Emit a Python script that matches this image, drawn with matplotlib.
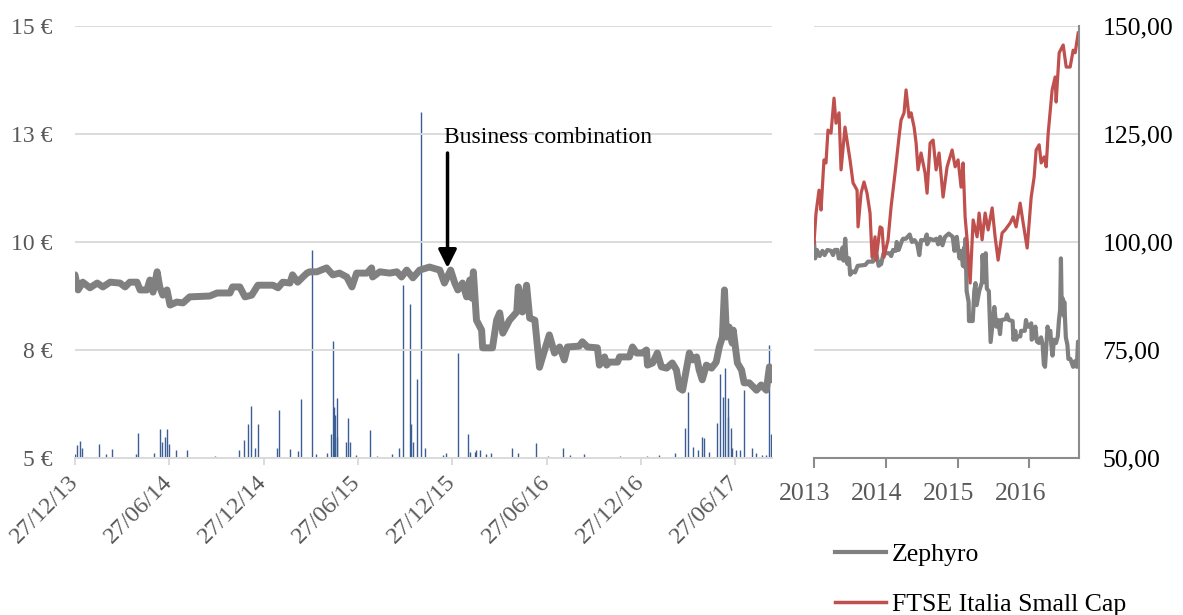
import pandas as pd
import matplotlib
matplotlib.use('Agg')
import matplotlib.pyplot as plt
from matplotlib.lines import Line2D
from matplotlib.transforms import ScaledTranslation

plt.rcParams['font.family'] = ['Liberation Serif', 'DejaVu Serif']

# Zephyro share price (EUR)
zephyro_dates = [
    '2013-12-27', '2014-01-02', '2014-01-11', '2014-01-25', '2014-02-08', '2014-02-19',
    '2014-03-05', '2014-03-24', '2014-04-03', '2014-04-12', '2014-04-26', '2014-05-02',
    '2014-05-15', '2014-05-21', '2014-05-27', '2014-06-04', '2014-06-09', '2014-06-15',
    '2014-06-23', '2014-06-29', '2014-07-12', '2014-07-24', '2014-08-06', '2014-09-14',
    '2014-09-28', '2014-10-23', '2014-10-28', '2014-11-11', '2014-11-21', '2014-12-04',
    '2014-12-16', '2015-01-14', '2015-01-24', '2015-02-02', '2015-02-16', '2015-02-21',
    '2015-03-03', '2015-03-13', '2015-03-21', '2015-03-26', '2015-04-09', '2015-04-28',
    '2015-05-10', '2015-05-23', '2015-06-06', '2015-06-16', '2015-06-25', '2015-07-15',
    '2015-07-24', '2015-07-26', '2015-08-09', '2015-08-28', '2015-09-11', '2015-09-20',
    '2015-09-30', '2015-10-12', '2015-10-25', '2015-11-13', '2015-12-03', '2015-12-12',
    '2015-12-24', '2016-01-01', '2016-01-07', '2016-01-16', '2016-01-24', '2016-01-30',
    '2016-02-03', '2016-02-06', '2016-02-12', '2016-02-22', '2016-02-24', '2016-03-14',
    '2016-03-22', '2016-03-28', '2016-04-03', '2016-04-16', '2016-04-30', '2016-05-03',
    '2016-05-11', '2016-05-19', '2016-05-25', '2016-06-04', '2016-06-13', '2016-06-23',
    '2016-07-02', '2016-07-12', '2016-07-22', '2016-07-31', '2016-08-06', '2016-08-29',
    '2016-09-04', '2016-09-14', '2016-10-03', '2016-10-07', '2016-10-17', '2016-10-21',
    '2016-10-26', '2016-11-11', '2016-11-15', '2016-12-04', '2016-12-10', '2016-12-18',
    '2016-12-29', '2017-01-06', '2017-01-08', '2017-01-18', '2017-01-27', '2017-02-04',
    '2017-02-14', '2017-02-25', '2017-03-05', '2017-03-11', '2017-03-17', '2017-03-24',
    '2017-03-30', '2017-04-05', '2017-04-13', '2017-04-18', '2017-04-24', '2017-05-02',
    '2017-05-12', '2017-05-21', '2017-05-27', '2017-06-02', '2017-06-06', '2017-06-10',
    '2017-06-15', '2017-06-21', '2017-06-23', '2017-07-01', '2017-07-09', '2017-07-14',
    '2017-07-24', '2017-08-07', '2017-08-16', '2017-08-26', '2017-09-01', '2017-09-05',
]
zephyro_price = [
    9.24, 8.89, 9.07, 8.94, 9.05, 8.96,
    9.07, 9.05, 8.96, 9.07, 9.07, 8.89,
    8.89, 9.12, 8.84, 9.31, 8.96, 8.77,
    8.89, 8.54, 8.61, 8.59, 8.73, 8.75,
    8.82, 8.82, 8.96, 8.96, 8.73, 8.77,
    9.00, 9.00, 8.94, 9.07, 9.05, 9.24,
    9.07, 9.19, 9.28, 9.31, 9.31, 9.40,
    9.24, 9.28, 9.19, 8.96, 9.28, 9.28,
    9.40, 9.19, 9.31, 9.28, 9.31, 9.19,
    9.35, 9.17, 9.35, 9.42, 9.35, 9.05,
    9.35, 9.05, 8.89, 9.05, 8.73, 9.12,
    8.70, 9.31, 8.19, 7.96, 7.55, 7.55,
    8.19, 8.36, 7.89, 8.19, 8.38, 8.96,
    8.38, 9.00, 8.24, 8.19, 7.10, 7.50,
    7.85, 7.43, 7.57, 7.27, 7.57, 7.59,
    7.69, 7.57, 7.55, 7.15, 7.34, 7.15,
    7.22, 7.22, 7.34, 7.34, 7.57, 7.43,
    7.43, 7.50, 7.15, 7.20, 7.43, 7.11,
    7.08, 7.20, 7.04, 6.62, 6.57, 7.04,
    7.43, 7.27, 7.34, 7.04, 6.81, 7.15,
    7.08, 7.22, 7.57, 7.80, 8.89, 7.80,
    8.03, 7.66, 7.96, 7.20, 7.04, 6.74,
    6.74, 6.57, 6.69, 6.57, 7.11, 6.81,
]

# traded volume (thousand shares), secondary hidden axis
volume_dates = [
    '2013-12-27', '2013-12-30', '2014-01-06', '2014-01-10', '2014-02-11', '2014-02-25',
    '2014-03-09', '2014-04-24', '2014-04-28', '2014-05-29', '2014-06-09', '2014-06-13',
    '2014-06-19', '2014-06-23', '2014-06-27', '2014-07-10', '2014-08-01', '2014-09-24',
    '2014-11-09', '2014-11-19', '2014-11-26', '2014-12-02', '2014-12-10', '2014-12-16',
    '2015-01-22', '2015-01-25', '2015-02-16', '2015-03-03', '2015-03-09', '2015-03-30',
    '2015-04-07', '2015-04-28', '2015-05-06', '2015-05-10', '2015-05-12', '2015-05-14',
    '2015-05-18', '2015-05-19', '2015-06-04', '2015-06-08', '2015-06-12', '2015-06-23',
    '2015-07-20', '2015-08-03', '2015-09-01', '2015-09-16', '2015-09-22', '2015-10-06',
    '2015-10-08', '2015-10-12', '2015-10-19', '2015-10-27', '2015-11-04', '2015-12-10',
    '2015-12-16', '2016-01-08', '2016-01-26', '2016-01-30', '2016-02-10', '2016-02-12',
    '2016-02-18', '2016-03-01', '2016-03-12', '2016-04-20', '2016-05-02', '2016-06-07',
    '2016-06-29', '2016-07-28', '2016-08-12', '2016-09-08', '2016-11-15', '2017-01-08',
    '2017-01-31', '2017-03-03', '2017-03-22', '2017-03-28', '2017-04-07', '2017-04-15',
    '2017-04-24', '2017-04-28', '2017-05-08', '2017-05-23', '2017-05-29', '2017-06-04',
    '2017-06-08', '2017-06-12', '2017-06-13', '2017-06-19', '2017-06-21', '2017-06-29',
    '2017-07-07', '2017-07-14', '2017-07-30', '2017-08-07', '2017-08-18', '2017-08-26',
    '2017-09-01', '2017-09-05',
]
volume_k = [
    3.7, 12, 15.7, 9.3, 13, 3.7,
    8.3, 3.7, 23, 4.6, 27, 14.8,
    19.4, 27, 13, 7.4, 7.4, 1.9,
    7.4, 16.7, 31.5, 48, 9.3, 31.5,
    9.3, 44, 8.3, 6.5, 55, 193,
    3.7, 4.6, 22, 108, 47, 40,
    19.4, 56, 14.8, 37, 14.8, 2.8,
    26, 1.9, 3.7, 9.3, 160, 143,
    31.5, 14.8, 73, 320, 9.3, 2.8,
    4.6, 97, 22, 5.5, 6, 7.4,
    7.4, 4, 5, 9.3, 4.6, 14,
    2, 9.3, 3, 4, 2, 2,
    3, 4.6, 28, 61, 10, 7.4,
    19.4, 18.5, 6, 32, 78, 56.5,
    83, 38, 56, 28, 9.3, 7,
    7, 63, 9.3, 4.6, 3, 3,
    105, 22,
]

# FTSE Italia Small Cap, rebased to 100
ftse_x = [
    2013.000, 2013.028, 2013.070, 2013.098, 2013.139, 2013.167, 2013.195, 2013.237,
    2013.279, 2013.307, 2013.349, 2013.377, 2013.432, 2013.502, 2013.544, 2013.600,
    2013.614, 2013.656, 2013.697, 2013.739, 2013.781, 2013.809, 2013.851, 2013.865,
    2013.921, 2013.948, 2013.976, 2014.032, 2014.074, 2014.130, 2014.185, 2014.213,
    2014.255, 2014.283, 2014.325, 2014.353, 2014.395, 2014.423, 2014.450, 2014.492,
    2014.548, 2014.576, 2014.618, 2014.660, 2014.702, 2014.743, 2014.799, 2014.855,
    2014.925, 2014.967, 2015.008, 2015.050, 2015.078, 2015.106, 2015.134, 2015.176,
    2015.218, 2015.273, 2015.301, 2015.343, 2015.385, 2015.427, 2015.483, 2015.524,
    2015.566, 2015.622, 2015.664, 2015.734, 2015.775, 2015.817, 2015.873, 2015.915,
    2015.971, 2016.027, 2016.068, 2016.096, 2016.138, 2016.166, 2016.208, 2016.236,
    2016.264, 2016.319, 2016.361, 2016.375, 2016.417, 2016.473, 2016.515, 2016.570,
    2016.612, 2016.640, 2016.682,
]
ftse_index = [
    99.8, 106.7, 112.0, 107.4, 119.0, 118.3, 125.9, 125.2,
    133.3, 127.5, 129.9, 116.7, 126.6, 119.0, 113.7, 112.0,
    103.5, 111.3, 113.9, 111.3, 106.7, 96.5, 101.2, 95.8,
    103.5, 103.2, 96.5, 100.5, 108.1, 116.0, 124.3, 128.2,
    129.9, 135.2, 128.9, 129.9, 126.6, 122.9, 116.7, 120.6,
    116.0, 111.3, 122.9, 123.6, 116.7, 120.6, 110.4, 117.4,
    121.3, 117.4, 119.0, 112.7, 118.3, 105.8, 100.5, 90.5,
    105.1, 101.2, 106.7, 100.5, 106.7, 102.8, 107.9, 101.2,
    95.8, 102.1, 102.8, 104.4, 105.8, 103.5, 109.0, 104.4,
    98.6, 110.4, 115.0, 121.3, 122.5, 118.3, 119.7, 117.4,
    125.2, 135.2, 138.2, 132.4, 143.8, 145.6, 140.5, 140.5,
    144.4, 143.8, 148.4,
]

price_ticks = [5, 7.5, 10, 12.5, 15]
price_labels = ['5 €', '8 €', '10 €', '13 €', '15 €']
date_ticks = ['2013-12-27', '2014-06-27', '2014-12-27', '2015-06-27',
              '2015-12-27', '2016-06-27', '2016-12-27', '2017-06-27']
date_labels = ['27/12/13', '27/06/14', '27/12/14', '27/06/15',
               '27/12/15', '27/06/16', '27/12/16', '27/06/17']
index_ticks = [50, 75, 100, 125, 150]
index_labels = ['50,00', '75,00', '100,00', '125,00', '150,00']
year_ticks = [2013, 2014, 2015, 2016]
deal_date = '2015-12-18'

GRID = '#D9D9D9'
AXIS_GREY = '#8C8C8C'
LABEL_GREY = '#595959'

zd = pd.to_datetime(zephyro_dates)
start = pd.Timestamp(date_ticks[0])
end = pd.Timestamp('2017-09-06')

fig = plt.figure(figsize=(11.83, 6.15), dpi=100)

# left panel: price + volume
ax = fig.add_axes([75 / 1183, 157 / 615, 697 / 1183, 432 / 615])
axv = ax.twinx()
axv.vlines(pd.to_datetime(volume_dates), 0, volume_k, color='#3B5F94', lw=1.0)
axv.set_ylim(0, 400)
axv.axis('off')
ax.set_zorder(axv.get_zorder() + 1)
ax.patch.set_visible(False)

ax.plot(zd, zephyro_price, color='#808080', lw=5.0,
        solid_capstyle='round', solid_joinstyle='round')
ax.set_xlim(start, end)
ax.set_ylim(5, 15)
ax.set_yticks(price_ticks)
ax.set_yticklabels(price_labels)
ax.grid(axis='y', color=GRID, lw=1.3)
ax.set_axisbelow(True)
for s in ['top', 'right', 'left']:
    ax.spines[s].set_visible(False)
ax.spines['bottom'].set_color(GRID)
ax.spines['bottom'].set_linewidth(1.3)
ax.set_xticks(pd.to_datetime(date_ticks))
ax.set_xticklabels(date_labels, rotation=45, ha='right', va='center',
                   rotation_mode='anchor')
ax.tick_params(axis='x', length=5, width=1.3, color=GRID, pad=10,
               labelcolor=LABEL_GREY, labelsize=17.5)
ax.tick_params(axis='y', length=0, pad=16, labelcolor=LABEL_GREY, labelsize=17)

ax.annotate('', xy=(pd.Timestamp(deal_date), 9.40),
            xytext=(pd.Timestamp(deal_date), 12.06),
            arrowprops=dict(arrowstyle='-|>,head_length=1.1,head_width=0.55',
                            color='black', lw=2.5, mutation_scale=10,
                            shrinkA=0, shrinkB=0))
ax.text(pd.Timestamp('2015-12-12'), 12.43, 'Business combination',
        fontsize=17, va='center', ha='left', color='black')

# right panel: rebased comparison
ax2 = fig.add_axes([814 / 1183, 157 / 615, 265 / 1183, 432 / 615])
zx = [2013 + (d - zd[0]).days / 365.25 for d in zd]
zr = [p / zephyro_price[0] * 100 for p in zephyro_price]
ax2.plot(zx, zr, color='#808080', lw=3.0, solid_joinstyle='round')
ax2.plot(ftse_x, ftse_index, color='#C0504D', lw=2.3, solid_joinstyle='round')
ax2.set_xlim(2013, 2013 + (end - start).days / 365.25)
ax2.set_ylim(50, 150)
ax2.yaxis.tick_right()
ax2.set_yticks(index_ticks)
ax2.set_yticklabels(index_labels)
ax2.grid(axis='y', color=GRID, lw=1.3)
ax2.set_axisbelow(True)
for s in ['top', 'left']:
    ax2.spines[s].set_visible(False)
for s in ['right', 'bottom']:
    ax2.spines[s].set_color(AXIS_GREY)
    ax2.spines[s].set_linewidth(1.5)
ax2.set_xticks(year_ticks)
ax2.set_xticklabels([str(y) for y in year_ticks])
ax2.tick_params(axis='x', length=7, width=1.5, color=AXIS_GREY, pad=11,
                labelcolor=LABEL_GREY, labelsize=18.5)
ax2.tick_params(axis='y', length=0, pad=17, labelcolor='black', labelsize=18.5)
for lab in ax2.get_xticklabels():
    lab.set_transform(lab.get_transform() + ScaledTranslation(-0.09, 0, fig.dpi_scale_trans))

handles = [Line2D([], [], color='#808080', lw=3),
           Line2D([], [], color='#C0504D', lw=2.5)]
fig.legend(handles, ['Zephyro', 'FTSE Italia Small Cap'], loc='upper left',
           bbox_to_anchor=(835 / 1183, 1 - 543 / 615), frameon=False,
           fontsize=18.5, handlelength=2.0, handletextpad=0.2,
           labelspacing=1.05, borderpad=0, borderaxespad=0)

fig.savefig('out.png', dpi=100)
